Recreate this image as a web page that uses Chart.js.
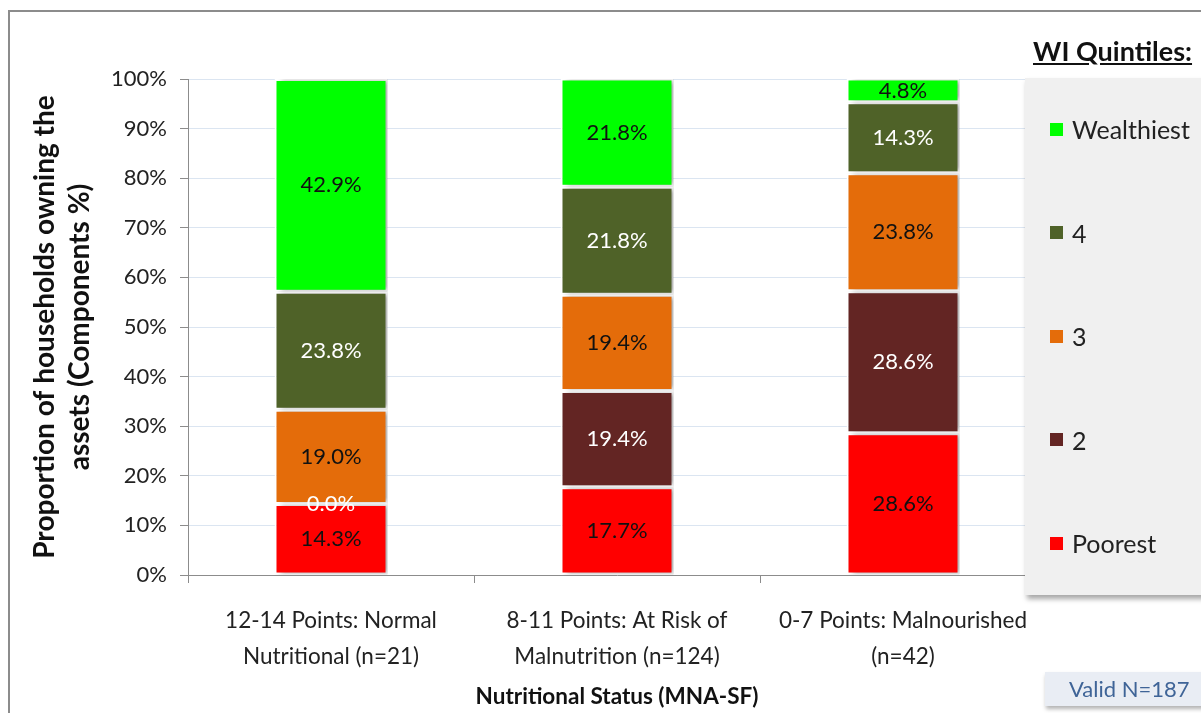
<!DOCTYPE html>
<html>
<head>
<meta charset="utf-8">
<script src="https://cdn.jsdelivr.net/npm/chart.js@4.4.1/dist/chart.umd.min.js"></script>
<style>
  body { margin: 0; background: #fff; font-family: Lato, sans-serif; }
  #wrap { position: relative; width: 1201px; height: 713px; overflow: hidden; background: #fff; }
  #frame { position: absolute; left: 8px; top: 10px; width: 1300px; height: 800px;
           border-top: 2px solid #8c8c8c; border-left: 2px solid #8c8c8c; }
  canvas { position: absolute; left: 0; top: 0; }
  #legTitle { position: absolute; left: 1033px; top: 34px; font-weight: bold; font-size: 27px;
              text-decoration: underline; color: #111; }
  #legBox { position: absolute; left: 1025px; top: 78px; width: 190px; height: 517px;
            background: #f0f0f0; box-shadow: 2px 4px 5px rgba(0,0,0,0.35); }
  .item { position: absolute; left: 25px; font-size: 25px; color: #222; display: flex; align-items: center; }
  .item span.sw { width: 13px; height: 13px; margin-right: 9px; display: inline-block; }
  #valid { position: absolute; left: 1045px; top: 672px; width: 170px; height: 34px;
           background: #e9edf4; color: #3f6497; font-size: 22px; line-height: 34px;
           padding-left: 24px; box-sizing: border-box; box-shadow: 1px 3px 4px rgba(0,0,0,0.3); }
</style>
</head>
<body>
<div id="wrap">
  <canvas id="assetChart" width="1201" height="713"></canvas>
  <div id="frame"></div>
  <div id="legTitle">WI Quintiles:</div>
  <div id="legBox"></div>
  <div id="valid">Valid N=187</div>
</div>
<script>
// categories (nutritional status groups)
const categories = [
    ['12-14 Points: Normal', 'Nutritional (n=21)'],
    ['8-11 Points: At Risk of', 'Malnutrition (n=124)'],
    ['0-7 Points: Malnourished', '(n=42)']
];

// wealth index quintile shares per group (%)
const poorest    = [14.3, 17.7, 28.6];
const quintile2  = [0.0, 19.4, 28.6];
const quintile3  = [19.0, 19.4, 23.8];
const quintile4  = [23.8, 21.8, 14.3];
const wealthiest = [42.9, 21.8, 4.8];

const seriesNames  = ['Poorest', '2', '3', '4', 'Wealthiest'];
const seriesColors = ['#ff0000', '#632523', '#e46c0a', '#4f6228', '#00ff00'];
const labelColors  = ['#111', '#fff', '#111', '#fff', '#111'];
const seriesData   = [poorest, quintile2, quintile3, quintile4, wealthiest];

const yTicks = [0, 10, 20, 30, 40, 50, 60, 70, 80, 90, 100];

// legend, top entry first like the original
const legBox = document.getElementById('legBox');
for (let k = seriesNames.length - 1; k >= 0; k--) {
    const pos = seriesNames.length - 1 - k;
    const div = document.createElement('div');
    div.className = 'item';
    div.style.top = (36 + pos * 103.5) + 'px';
    div.innerHTML = '<span class="sw" style="background:' + seriesColors[k] + '"></span>' + seriesNames[k];
    legBox.appendChild(div);
}

const barShadow = {
    id: 'barShadow',
    beforeDatasetsDraw(chart) {
        const ctx = chart.ctx;
        ctx.save();
        ctx.shadowColor = 'rgba(0,0,0,0.35)';
        ctx.shadowBlur = 5;
        ctx.shadowOffsetX = 4;
        ctx.shadowOffsetY = 0;
    },
    afterDatasetsDraw(chart) {
        chart.ctx.restore();
    }
};

const valueLabels = {
    id: 'valueLabels',
    afterDatasetsDraw(chart) {
        const ctx = chart.ctx;
        ctx.save();
        ctx.font = '22px Lato';
        ctx.textAlign = 'center';
        ctx.textBaseline = 'middle';
        chart.data.datasets.forEach((ds, i) => {
            const meta = chart.getDatasetMeta(i);
            meta.data.forEach((bar, j) => {
                const p = bar.getCenterPoint();
                ctx.fillStyle = labelColors[i];
                ctx.fillText(ds.data[j].toFixed(1) + '%', p.x, p.y);
            });
        });
        ctx.restore();
    }
};

const ctx = document.getElementById('assetChart').getContext('2d');

new Chart(ctx, {
    type: 'bar',
    data: {
        labels: categories,
        datasets: seriesNames.map((name, i) => ({
            label: name,
            data: seriesData[i],
            backgroundColor: seriesColors[i],
            borderColor: '#ffffff',
            borderWidth: 2,
            borderSkipped: false,
            categoryPercentage: 1.0,
            barPercentage: 0.395
        }))
    },
    options: {
        responsive: false,
        animation: false,
        layout: {
            padding: { top: 79, right: 155, left: 0, bottom: 0 }
        },
        plugins: {
            legend: { display: false },
            tooltip: { enabled: false }
        },
        scales: {
            x: {
                stacked: true,
                afterFit: scale => { scale.height = 138; },
                border: { color: '#8c8c8c', width: 1 },
                grid: {
                    drawOnChartArea: false,
                    drawTicks: true,
                    tickLength: 8,
                    tickColor: '#8c8c8c',
                    offset: true
                },
                ticks: {
                    color: '#222',
                    padding: 20,
                    font: { family: 'Lato', size: 22.5, lineHeight: 1.6 }
                },
                title: {
                    display: true,
                    text: 'Nutritional Status (MNA-SF)',
                    color: '#111',
                    padding: { bottom: 3, top: 0 },
                    font: { family: 'Lato', size: 22.5, weight: 'bold', lineHeight: 1.2 }
                }
            },
            y: {
                stacked: true,
                min: 0,
                max: 100,
                afterFit: scale => { scale.width = 188; },
                afterBuildTicks: scale => {
                    scale.ticks = yTicks.map(v => ({ value: v }));
                },
                border: { color: '#8c8c8c', width: 1 },
                grid: {
                    color: '#dbe5f1',
                    tickColor: '#8c8c8c',
                    tickLength: 8
                },
                ticks: {
                    color: '#222',
                    padding: 13,
                    font: { family: 'Lato', size: 22 },
                    callback: v => v + '%'
                },
                title: {
                    display: true,
                    text: ['Proportion of households owning the', 'assets (Components %)'],
                    color: '#111',
                    padding: { top: 27, bottom: 0 },
                    font: { family: 'Lato', size: 28, weight: 'bold', lineHeight: 1.25 }
                }
            }
        }
    },
    plugins: [barShadow, valueLabels]
});
</script>
</body>
</html>
